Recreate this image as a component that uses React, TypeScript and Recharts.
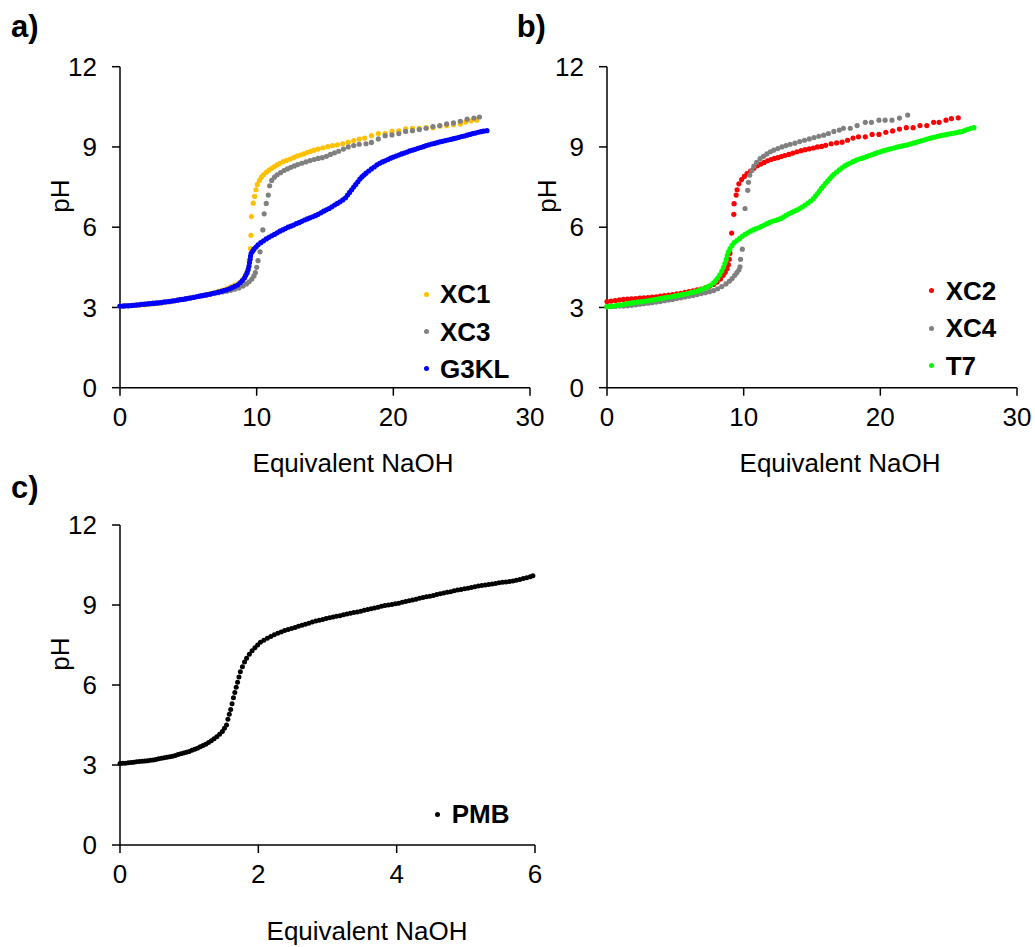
import React from "react";
import { ScatterChart, Scatter, XAxis, YAxis, Legend } from "recharts";

// ─── Types ────────────────────────────────────────
type Pt = [number, number]; // [equivalent NaOH, pH]

interface Series {
  name: string;
  color: string;
  points: Pt[];
}

const FONT = "'Liberation Sans', Arial, Helvetica, sans-serif";

// ─── Data: panel a ────────────────────────────────
const XC1: Pt[] = [
  [0, 3.05], [0.3, 3.05], [0.6, 3.06], [0.9, 3.07], [1.2, 3.08], [1.5, 3.09], [1.8, 3.1], [2.1, 3.12],
  [2.4, 3.13], [2.7, 3.15], [3.0, 3.17], [3.3, 3.19], [3.6, 3.21], [3.9, 3.23], [4.2, 3.26], [4.5, 3.29],
  [4.8, 3.32], [5.1, 3.35], [5.4, 3.38], [5.7, 3.41], [6.0, 3.44], [6.3, 3.48], [6.6, 3.51], [6.9, 3.55],
  [7.2, 3.6], [7.5, 3.65], [7.8, 3.7], [8.1, 3.77], [8.4, 3.84], [8.7, 3.92], [8.95, 4.02], [9.15, 4.15],
  [9.3, 4.32], [9.4, 4.5], [9.45, 4.75], [9.55, 5.2], [9.58, 5.7], [9.62, 6.4], [9.75, 6.9], [9.85, 7.15],
  [9.95, 7.4], [10.05, 7.6], [10.2, 7.75], [10.35, 7.87], [10.5, 7.96], [10.7, 8.05], [10.9, 8.13],
  [11.1, 8.2], [11.3, 8.27], [11.5, 8.33], [11.7, 8.39], [11.95, 8.45], [12.2, 8.5], [12.45, 8.55],
  [12.7, 8.6], [12.95, 8.66], [13.2, 8.7], [13.45, 8.74], [13.7, 8.8], [13.95, 8.84], [14.2, 8.88],
  [14.5, 8.92], [14.85, 8.97], [15.2, 9.01], [15.55, 9.05], [15.9, 9.08], [16.3, 9.12], [16.7, 9.18],
  [17.1, 9.24], [17.5, 9.29], [17.9, 9.33], [18.4, 9.42], [18.9, 9.5], [19.4, 9.5], [19.9, 9.58],
  [20.4, 9.6], [20.9, 9.68], [21.4, 9.7], [21.9, 9.7], [22.4, 9.72], [22.9, 9.72], [23.4, 9.78],
  [23.9, 9.8], [24.4, 9.83], [24.9, 9.86], [25.3, 9.93], [25.7, 9.98], [26.1, 10.0],
];

const XC3: Pt[] = [
  [0, 3.05], [0.3, 3.06], [0.6, 3.07], [0.9, 3.08], [1.2, 3.1], [1.5, 3.12], [1.8, 3.13], [2.1, 3.14],
  [2.4, 3.16], [2.7, 3.17], [3.0, 3.19], [3.3, 3.21], [3.6, 3.23], [3.9, 3.26], [4.2, 3.28], [4.5, 3.3],
  [4.8, 3.33], [5.1, 3.35], [5.4, 3.38], [5.7, 3.41], [6.0, 3.44], [6.3, 3.46], [6.6, 3.49], [6.9, 3.52],
  [7.2, 3.55], [7.5, 3.58], [7.8, 3.61], [8.1, 3.64], [8.4, 3.68], [8.7, 3.73], [9.0, 3.8], [9.25, 3.88],
  [9.45, 3.96], [9.65, 4.06], [9.8, 4.18], [9.9, 4.3], [10.0, 4.5], [10.1, 4.75], [10.25, 5.08],
  [10.45, 5.9], [10.55, 6.5], [10.7, 6.89], [10.85, 7.2], [10.95, 7.55], [11.1, 7.75], [11.3, 7.87],
  [11.5, 7.96], [11.75, 8.04], [12.0, 8.12], [12.25, 8.18], [12.5, 8.24], [12.75, 8.29], [13.0, 8.34],
  [13.3, 8.39], [13.6, 8.44], [13.9, 8.49], [14.2, 8.53], [14.5, 8.57], [14.8, 8.6], [15.1, 8.65],
  [15.4, 8.72], [15.7, 8.78], [16.0, 8.84], [16.35, 8.92], [16.7, 9.0], [17.1, 9.05], [17.5, 9.1],
  [18.0, 9.12], [18.4, 9.17], [18.9, 9.3], [19.4, 9.42], [19.9, 9.45], [20.4, 9.5], [20.9, 9.58],
  [21.4, 9.61], [21.9, 9.65], [22.4, 9.7], [22.9, 9.76], [23.4, 9.8], [23.9, 9.86], [24.4, 9.9],
  [24.9, 9.96], [25.4, 10.04], [25.9, 10.08], [26.3, 10.12],
];

const G3KL: Pt[] = [
  [0, 3.05], [0.2, 3.05], [0.4, 3.06], [0.6, 3.06], [0.8, 3.07], [1.0, 3.08], [1.2, 3.09], [1.4, 3.1],
  [1.6, 3.12], [1.8, 3.12], [2.0, 3.13], [2.2, 3.14], [2.4, 3.15], [2.6, 3.16], [2.8, 3.17], [3.0, 3.18],
  [3.2, 3.2], [3.4, 3.21], [3.6, 3.22], [3.8, 3.24], [4.0, 3.25], [4.2, 3.27], [4.4, 3.29], [4.6, 3.3],
  [4.8, 3.32], [5.0, 3.34], [5.2, 3.36], [5.4, 3.38], [5.6, 3.4], [5.8, 3.42], [6.0, 3.44], [6.2, 3.46],
  [6.4, 3.48], [6.6, 3.5], [6.8, 3.53], [7.0, 3.55], [7.2, 3.57], [7.4, 3.6], [7.6, 3.63], [7.8, 3.66],
  [8.0, 3.7], [8.2, 3.74], [8.4, 3.79], [8.6, 3.84], [8.8, 3.92], [8.95, 4.0], [9.1, 4.1], [9.2, 4.2],
  [9.3, 4.3], [9.38, 4.42], [9.44, 4.55], [9.48, 4.68], [9.52, 4.8], [9.55, 4.92], [9.6, 5.02],
  [9.7, 5.1], [9.8, 5.18], [9.95, 5.26], [10.1, 5.34], [10.3, 5.42], [10.5, 5.49], [10.7, 5.56],
  [10.9, 5.62], [11.1, 5.68], [11.3, 5.73], [11.5, 5.79], [11.7, 5.85], [11.9, 5.9], [12.1, 5.95],
  [12.3, 6.0], [12.5, 6.04], [12.7, 6.08], [12.9, 6.13], [13.1, 6.17], [13.3, 6.22], [13.5, 6.27],
  [13.7, 6.31], [13.9, 6.35], [14.1, 6.39], [14.3, 6.43], [14.5, 6.48], [14.7, 6.54], [14.9, 6.6],
  [15.1, 6.65], [15.3, 6.7], [15.5, 6.76], [15.7, 6.83], [15.9, 6.89], [16.1, 6.95], [16.3, 7.02],
  [16.5, 7.1], [16.65, 7.2], [16.8, 7.3], [16.95, 7.4], [17.1, 7.5], [17.25, 7.6], [17.4, 7.7],
  [17.55, 7.8], [17.7, 7.88], [17.85, 7.95], [18.0, 8.02], [18.2, 8.1], [18.4, 8.18], [18.6, 8.25],
  [18.8, 8.33], [19.0, 8.39], [19.2, 8.44], [19.4, 8.48], [19.6, 8.53], [19.8, 8.58], [20.0, 8.62],
  [20.2, 8.66], [20.4, 8.7], [20.6, 8.74], [20.8, 8.77], [21.0, 8.81], [21.2, 8.85], [21.4, 8.88],
  [21.6, 8.91], [21.8, 8.95], [22.0, 8.98], [22.2, 9.01], [22.4, 9.05], [22.6, 9.08], [22.8, 9.11],
  [23.0, 9.13], [23.2, 9.16], [23.4, 9.19], [23.6, 9.21], [23.8, 9.24], [24.0, 9.26], [24.2, 9.28],
  [24.4, 9.31], [24.6, 9.33], [24.8, 9.36], [25.0, 9.39], [25.2, 9.41], [25.4, 9.44], [25.6, 9.47],
  [25.8, 9.5], [26.0, 9.52], [26.2, 9.55], [26.4, 9.57], [26.6, 9.59], [26.85, 9.61],
];

// ─── Data: panel b ────────────────────────────────
const XC2: Pt[] = [
  [0, 3.22], [0.3, 3.24], [0.6, 3.26], [0.9, 3.28], [1.2, 3.3], [1.5, 3.31], [1.8, 3.32], [2.1, 3.33],
  [2.4, 3.35], [2.7, 3.36], [3.0, 3.37], [3.3, 3.39], [3.6, 3.4], [3.9, 3.42], [4.2, 3.44], [4.5, 3.46],
  [4.8, 3.48], [5.1, 3.51], [5.4, 3.53], [5.7, 3.56], [6.0, 3.59], [6.3, 3.62], [6.6, 3.66], [6.9, 3.69],
  [7.2, 3.73], [7.5, 3.79], [7.8, 3.86], [8.05, 3.95], [8.3, 4.06], [8.5, 4.2], [8.65, 4.32],
  [8.78, 4.45], [8.88, 4.6], [8.95, 4.8], [9.0, 5.02], [9.12, 5.78], [9.28, 6.48], [9.3, 6.88],
  [9.45, 7.2], [9.52, 7.4], [9.65, 7.62], [9.85, 7.78], [10.05, 7.9], [10.25, 8.0], [10.5, 8.1],
  [10.75, 8.2], [11.0, 8.3], [11.25, 8.36], [11.5, 8.42], [11.75, 8.48], [12.0, 8.53], [12.25, 8.57],
  [12.5, 8.6], [12.75, 8.64], [13.0, 8.68], [13.3, 8.72], [13.6, 8.77], [13.9, 8.82], [14.2, 8.86],
  [14.5, 8.9], [14.8, 8.93], [15.1, 8.96], [15.4, 9.0], [15.7, 9.02], [16.0, 9.06], [16.4, 9.12],
  [16.8, 9.15], [17.2, 9.18], [17.6, 9.25], [18.0, 9.33], [18.4, 9.38], [18.9, 9.38], [19.4, 9.47],
  [19.9, 9.47], [20.4, 9.55], [20.9, 9.6], [21.4, 9.67], [21.9, 9.72], [22.4, 9.72], [22.9, 9.8],
  [23.4, 9.8], [23.9, 9.92], [24.3, 9.92], [24.8, 10.0], [25.2, 10.06], [25.7, 10.09],
];

const XC4: Pt[] = [
  [0, 3.03], [0.3, 3.03], [0.6, 3.04], [0.9, 3.05], [1.2, 3.05], [1.5, 3.06], [1.8, 3.08], [2.1, 3.1],
  [2.4, 3.12], [2.7, 3.14], [3.0, 3.16], [3.3, 3.18], [3.6, 3.2], [3.9, 3.22], [4.2, 3.25], [4.5, 3.28],
  [4.8, 3.3], [5.1, 3.33], [5.4, 3.36], [5.7, 3.39], [6.0, 3.42], [6.3, 3.45], [6.6, 3.48], [6.9, 3.52],
  [7.2, 3.55], [7.5, 3.59], [7.8, 3.63], [8.1, 3.7], [8.4, 3.78], [8.7, 3.88], [8.95, 3.98], [9.15, 4.08],
  [9.35, 4.2], [9.5, 4.3], [9.65, 4.4], [9.73, 4.52], [9.77, 4.8], [9.9, 5.18], [10.1, 6.7], [10.3, 7.38],
  [10.35, 7.68], [10.45, 7.95], [10.6, 8.12], [10.75, 8.28], [10.95, 8.42], [11.2, 8.56], [11.45, 8.65],
  [11.7, 8.74], [11.95, 8.82], [12.2, 8.88], [12.5, 8.94], [12.8, 9.0], [13.1, 9.05], [13.4, 9.1],
  [13.75, 9.14], [14.1, 9.2], [14.45, 9.25], [14.8, 9.3], [15.15, 9.35], [15.5, 9.4], [15.85, 9.44],
  [16.2, 9.5], [16.6, 9.58], [17.0, 9.63], [17.3, 9.7], [17.8, 9.7], [18.3, 9.8], [18.9, 9.92],
  [19.35, 9.92], [19.9, 10.0], [20.35, 10.0], [20.85, 10.0], [21.4, 10.08], [22.0, 10.19],
];

const T7: Pt[] = [
  [0, 3.03], [0.2, 3.04], [0.4, 3.05], [0.6, 3.06], [0.8, 3.08], [1.0, 3.09], [1.2, 3.11], [1.4, 3.13],
  [1.6, 3.15], [1.8, 3.17], [2.0, 3.18], [2.2, 3.2], [2.4, 3.21], [2.6, 3.22], [2.8, 3.24], [3.0, 3.25],
  [3.2, 3.27], [3.4, 3.28], [3.6, 3.3], [3.8, 3.32], [4.0, 3.34], [4.2, 3.36], [4.4, 3.38], [4.6, 3.39],
  [4.8, 3.41], [5.0, 3.43], [5.2, 3.45], [5.4, 3.47], [5.6, 3.49], [5.8, 3.51], [6.0, 3.53], [6.2, 3.56],
  [6.4, 3.58], [6.6, 3.61], [6.8, 3.65], [7.0, 3.69], [7.2, 3.73], [7.4, 3.78], [7.6, 3.84], [7.8, 3.92],
  [7.95, 4.0], [8.1, 4.1], [8.25, 4.22], [8.4, 4.36], [8.52, 4.5], [8.63, 4.65], [8.72, 4.8], [8.8, 4.95],
  [8.88, 5.08], [9.0, 5.2], [9.15, 5.32], [9.3, 5.42], [9.5, 5.5], [9.7, 5.58], [9.9, 5.66], [10.1, 5.73],
  [10.3, 5.79], [10.5, 5.85], [10.7, 5.9], [10.9, 5.95], [11.1, 5.98], [11.3, 6.03], [11.5, 6.08],
  [11.7, 6.13], [11.9, 6.18], [12.1, 6.22], [12.3, 6.25], [12.5, 6.28], [12.7, 6.32], [12.9, 6.38],
  [13.1, 6.44], [13.3, 6.5], [13.5, 6.55], [13.7, 6.6], [13.9, 6.64], [14.1, 6.7], [14.3, 6.76],
  [14.5, 6.83], [14.7, 6.9], [14.9, 6.98], [15.1, 7.07], [15.25, 7.16], [15.4, 7.26], [15.55, 7.36],
  [15.7, 7.46], [15.85, 7.55], [16.0, 7.64], [16.15, 7.73], [16.3, 7.82], [16.45, 7.9], [16.6, 7.98],
  [16.8, 8.06], [17.0, 8.14], [17.2, 8.22], [17.4, 8.29], [17.6, 8.35], [17.8, 8.4], [18.0, 8.45],
  [18.2, 8.5], [18.4, 8.54], [18.6, 8.57], [18.8, 8.6], [19.0, 8.64], [19.2, 8.68], [19.4, 8.71],
  [19.6, 8.75], [19.8, 8.79], [20.0, 8.82], [20.2, 8.85], [20.4, 8.88], [20.6, 8.91], [20.8, 8.94],
  [21.0, 8.96], [21.2, 8.99], [21.4, 9.01], [21.6, 9.04], [21.8, 9.06], [22.0, 9.08], [22.2, 9.11],
  [22.4, 9.14], [22.6, 9.17], [22.8, 9.2], [23.0, 9.23], [23.2, 9.26], [23.4, 9.29], [23.6, 9.32],
  [23.8, 9.35], [24.0, 9.37], [24.2, 9.4], [24.4, 9.42], [24.6, 9.44], [24.8, 9.46], [25.0, 9.48],
  [25.2, 9.5], [25.4, 9.52], [25.6, 9.54], [25.8, 9.56], [26.0, 9.58], [26.2, 9.62], [26.4, 9.66],
  [26.6, 9.69], [26.85, 9.72],
];

// ─── Data: panel c ────────────────────────────────
const PMB: Pt[] = [
  [0, 3.06], [0.04, 3.07], [0.08, 3.07], [0.12, 3.08], [0.16, 3.09], [0.2, 3.1], [0.24, 3.12], [0.28, 3.13],
  [0.32, 3.14], [0.36, 3.15], [0.4, 3.16], [0.44, 3.18], [0.48, 3.19], [0.52, 3.21], [0.56, 3.23],
  [0.6, 3.25], [0.64, 3.27], [0.68, 3.29], [0.72, 3.31], [0.76, 3.33], [0.8, 3.36], [0.84, 3.39],
  [0.88, 3.42], [0.92, 3.45], [0.96, 3.48], [1.0, 3.51], [1.04, 3.55], [1.08, 3.59], [1.12, 3.63],
  [1.16, 3.68], [1.2, 3.73], [1.24, 3.78], [1.28, 3.84], [1.32, 3.91], [1.36, 3.98], [1.4, 4.06],
  [1.44, 4.15], [1.48, 4.26], [1.51, 4.38], [1.54, 4.5], [1.56, 4.72], [1.58, 4.9], [1.6, 5.08],
  [1.62, 5.3], [1.64, 5.52], [1.66, 5.72], [1.68, 5.92], [1.7, 6.1], [1.72, 6.3], [1.74, 6.5],
  [1.77, 6.68], [1.8, 6.86], [1.83, 7.0], [1.87, 7.15], [1.91, 7.28], [1.95, 7.4], [1.99, 7.5],
  [2.03, 7.6], [2.08, 7.68], [2.13, 7.75], [2.18, 7.82], [2.23, 7.88], [2.28, 7.94], [2.33, 7.99],
  [2.38, 8.04], [2.43, 8.08], [2.48, 8.12], [2.53, 8.16], [2.58, 8.2], [2.63, 8.24], [2.68, 8.28],
  [2.73, 8.32], [2.78, 8.36], [2.83, 8.4], [2.88, 8.43], [2.93, 8.46], [2.98, 8.49], [3.03, 8.52],
  [3.08, 8.55], [3.13, 8.58], [3.18, 8.6], [3.23, 8.63], [3.28, 8.66], [3.33, 8.69], [3.38, 8.72],
  [3.43, 8.74], [3.48, 8.77], [3.53, 8.8], [3.58, 8.83], [3.63, 8.86], [3.68, 8.89], [3.73, 8.92],
  [3.78, 8.95], [3.83, 8.98], [3.88, 9.0], [3.93, 9.02], [3.98, 9.05], [4.03, 9.07], [4.08, 9.1],
  [4.13, 9.13], [4.18, 9.16], [4.23, 9.19], [4.28, 9.22], [4.33, 9.25], [4.38, 9.28], [4.43, 9.31],
  [4.48, 9.33], [4.53, 9.36], [4.58, 9.39], [4.63, 9.42], [4.68, 9.45], [4.73, 9.48], [4.78, 9.5],
  [4.83, 9.53], [4.88, 9.56], [4.93, 9.58], [4.98, 9.61], [5.03, 9.63], [5.08, 9.66], [5.13, 9.68],
  [5.18, 9.71], [5.23, 9.73], [5.28, 9.75], [5.33, 9.77], [5.38, 9.79], [5.43, 9.81], [5.48, 9.83],
  [5.53, 9.85], [5.58, 9.86], [5.63, 9.88], [5.68, 9.9], [5.73, 9.93], [5.78, 9.96], [5.83, 9.99],
  [5.88, 10.02], [5.93, 10.06], [5.97, 10.1],
];

// ─── Ticks ────────────────────────────────────────
const PH_TICKS = [0, 3, 6, 9, 12];
const NAOH_TICKS_AB = [0, 10, 20, 30];
const NAOH_TICKS_C = [0, 2, 4, 6];

const SERIES_A: Series[] = [
  { name: "XC1", color: "#FFC000", points: XC1 },
  { name: "XC3", color: "#808080", points: XC3 },
  { name: "G3KL", color: "#0000FF", points: G3KL },
];
const SERIES_B: Series[] = [
  { name: "XC2", color: "#FF0000", points: XC2 },
  { name: "XC4", color: "#808080", points: XC4 },
  { name: "T7", color: "#00FF00", points: T7 },
];
const SERIES_C: Series[] = [{ name: "PMB", color: "#000000", points: PMB }];

const toData = (pts: Pt[]) => pts.map(([x, y]) => ({ x, y }));

// ─── Legend ───────────────────────────────────────
const ROW_H = 37.4;

function LegendBox({ series }: { series: Series[] }) {
  return (
    <div style={{ fontFamily: FONT }}>
      {series.map((s) => (
        <div key={s.name} style={{ display: "flex", alignItems: "center", height: ROW_H }}>
          <span
            style={{ display: "inline-block", width: 5, height: 5, borderRadius: "50%", background: s.color }}
          />
          <span style={{ marginLeft: 11.5, fontSize: 26, fontWeight: 700, lineHeight: "26px", color: "#000" }}>
            {s.name}
          </span>
        </div>
      ))}
    </div>
  );
}

// ─── Panel ────────────────────────────────────────
interface PanelProps {
  left: number;
  top: number;
  width: number;
  height: number;
  margin: { top: number; right: number; bottom: number; left: number };
  xMax: number;
  xTicks: number[];
  series: Series[];
  dotR: number;
  legendPos: { left: number; top: number };
  titleOffset: number;
  titleDx: number;
}

const axisStroke = { stroke: "#000", strokeWidth: 1.5 };
const tickText = { fontSize: 26, fill: "#000", fontFamily: FONT };

function Panel(p: PanelProps) {
  return (
    <div style={{ position: "absolute", left: p.left, top: p.top }}>
      <ScatterChart width={p.width} height={p.height} margin={p.margin}>
        <XAxis
          type="number"
          dataKey="x"
          domain={[0, p.xMax]}
          ticks={p.xTicks}
          interval={0}
          height={40}
          tickSize={8}
          tickMargin={12}
          axisLine={axisStroke}
          tickLine={axisStroke}
          tick={tickText}
          label={{
            value: "Equivalent NaOH",
            position: "bottom",
            offset: p.titleOffset,
            dx: p.titleDx,
            fontSize: 26,
            fill: "#000",
            fontFamily: FONT,
          }}
        />
        <YAxis
          type="number"
          dataKey="y"
          domain={[0, 12]}
          ticks={PH_TICKS}
          interval={0}
          width={100}
          tickSize={8}
          tickMargin={15}
          axisLine={axisStroke}
          tickLine={axisStroke}
          tick={tickText}
          label={{
            value: "pH",
            angle: -90,
            position: "center",
            dx: -10,
            dy: -31,
            fontSize: 26,
            fill: "#000",
            fontFamily: FONT,
          }}
        />
        {p.series.map((s) => (
          <Scatter
            key={s.name}
            name={s.name}
            data={toData(s.points)}
            fill={s.color}
            isAnimationActive={false}
            shape={(props: any) => <circle cx={props.cx} cy={props.cy} r={p.dotR} fill={s.color} />}
          />
        ))}
        <Legend
          layout="vertical"
          align="center"
          verticalAlign="middle"
          wrapperStyle={{ left: p.legendPos.left, top: p.legendPos.top, width: 140, height: "auto" }}
          content={() => <LegendBox series={p.series} />}
        />
      </ScatterChart>
    </div>
  );
}

const tagStyle: React.CSSProperties = {
  position: "absolute",
  fontFamily: FONT,
  fontSize: 31,
  fontWeight: 700,
  lineHeight: "31px",
  color: "#000",
};

export default function App() {
  return (
    <div
      style={{
        position: "absolute",
        left: 0,
        top: 0,
        width: 1035,
        height: 947,
        background: "#fff",
        overflow: "hidden",
      }}
    >
      <Panel
        left={0}
        top={0}
        width={560}
        height={490}
        margin={{ top: 66.7, right: 30, bottom: 62.3, left: 20 }}
        xMax={30}
        xTicks={NAOH_TICKS_AB}
        series={SERIES_A}
        dotR={2.6}
        legendPos={{ left: 423.5, top: 275.5 }}
        titleOffset={26.3}
        titleDx={28}
      />
      <Panel
        left={486.7}
        top={0}
        width={548}
        height={490}
        margin={{ top: 66.7, right: 18, bottom: 62.3, left: 20 }}
        xMax={30}
        xTicks={NAOH_TICKS_AB}
        series={SERIES_B}
        dotR={2.6}
        legendPos={{ left: 442.5, top: 272.3 }}
        titleOffset={26.3}
        titleDx={28}
      />
      <Panel
        left={0}
        top={458}
        width={560}
        height={489}
        margin={{ top: 67, right: 25, bottom: 62, left: 20 }}
        xMax={6}
        xTicks={NAOH_TICKS_C}
        series={SERIES_C}
        dotR={2.5}
        legendPos={{ left: 435.2, top: 337.4 }}
        titleOffset={36.5}
        titleDx={39.5}
      />
      <div style={{ ...tagStyle, left: 11, top: 11.1 }}>a)</div>
      <div style={{ ...tagStyle, left: 516.7, top: 11.1 }}>b)</div>
      <div style={{ ...tagStyle, left: 11, top: 471.8 }}>c)</div>
    </div>
  );
}
